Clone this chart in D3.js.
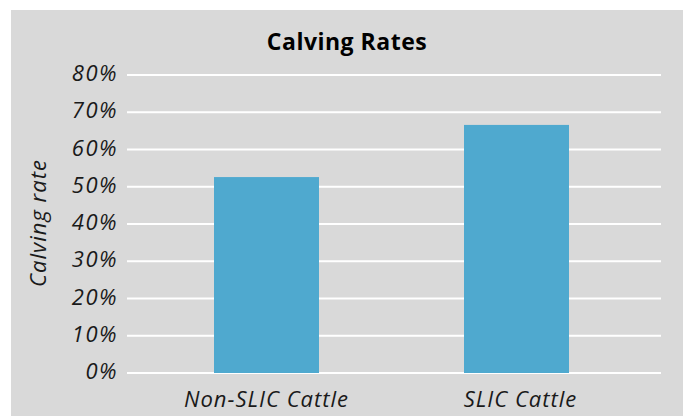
<!DOCTYPE html>
<html><head><meta charset="utf-8">
<script src="https://cdn.jsdelivr.net/npm/d3@7"></script>
<style>html,body{margin:0;padding:0;background:#fff;}svg{display:block;}</style>
</head><body>
<script>
const title = "Calving Rates";
const yTitle = "Calving rate";
const categories = ["Non-SLIC Cattle", "SLIC Cattle"];
const values = [0.526, 0.666];
const yTicks = [0, 0.1, 0.2, 0.3, 0.4, 0.5, 0.6, 0.7, 0.8];

const W = 688, H = 416;
const svg = d3.select("body").append("svg").attr("width", W).attr("height", H);
svg.append("rect").attr("x", 11).attr("y", 10).attr("width", 672).attr("height", 406).attr("fill", "#d9d9d9");

const font = "'Open Sans', sans-serif";
const y = d3.scaleLinear().domain([0, 0.8]).range([373, 75]);
const x = d3.scaleBand().domain(categories).range([141.5, 641.5]).paddingInner(0.58).paddingOuter(0.29);

// gridlines
svg.append("g").selectAll("line").data(yTicks).join("line")
  .attr("x1", 127).attr("x2", 661)
  .attr("y1", d => y(d)).attr("y2", d => y(d))
  .attr("stroke", "#fff").attr("stroke-width", 2);

// bars
svg.append("g").selectAll("rect").data(values).join("rect")
  .attr("x", (d, i) => x(categories[i]))
  .attr("width", x.bandwidth())
  .attr("y", d => y(d))
  .attr("height", d => y(0) - y(d))
  .attr("fill", "#4fa9cf");

// y tick labels
svg.append("g").selectAll("text").data(yTicks).join("text")
  .attr("x", 118).attr("y", d => y(d) + 6)
  .attr("text-anchor", "end")
  .attr("font-family", font).attr("font-style", "italic").attr("font-size", 22)
  .attr("letter-spacing", 1.5)
  .attr("fill", "#1a1a1a")
  .text(d => d3.format(".0%")(d));

// x labels
svg.append("g").selectAll("text").data(categories).join("text")
  .attr("x", (d, i) => x(d) + x.bandwidth() / 2 + (i ? 4 : 0))
  .attr("y", 407)
  .attr("text-anchor", "middle")
  .attr("font-family", font).attr("font-style", "italic").attr("font-size", 22)
  .attr("letter-spacing", 1)
  .attr("fill", "#1a1a1a")
  .text(d => d);

// y title
svg.append("text")
  .attr("transform", "translate(46,223) rotate(-90)")
  .attr("text-anchor", "middle")
  .attr("font-family", font).attr("font-style", "italic").attr("font-size", 22)
  .attr("letter-spacing", 1)
  .attr("fill", "#1a1a1a")
  .text(yTitle);

// title
svg.append("text")
  .attr("x", 347).attr("y", 50)
  .attr("text-anchor", "middle")
  .attr("font-family", font).attr("font-weight", "bold").attr("font-size", 23)
  .attr("letter-spacing", 0.5)
  .attr("fill", "#000")
  .text(title);
</script>
</body></html>
